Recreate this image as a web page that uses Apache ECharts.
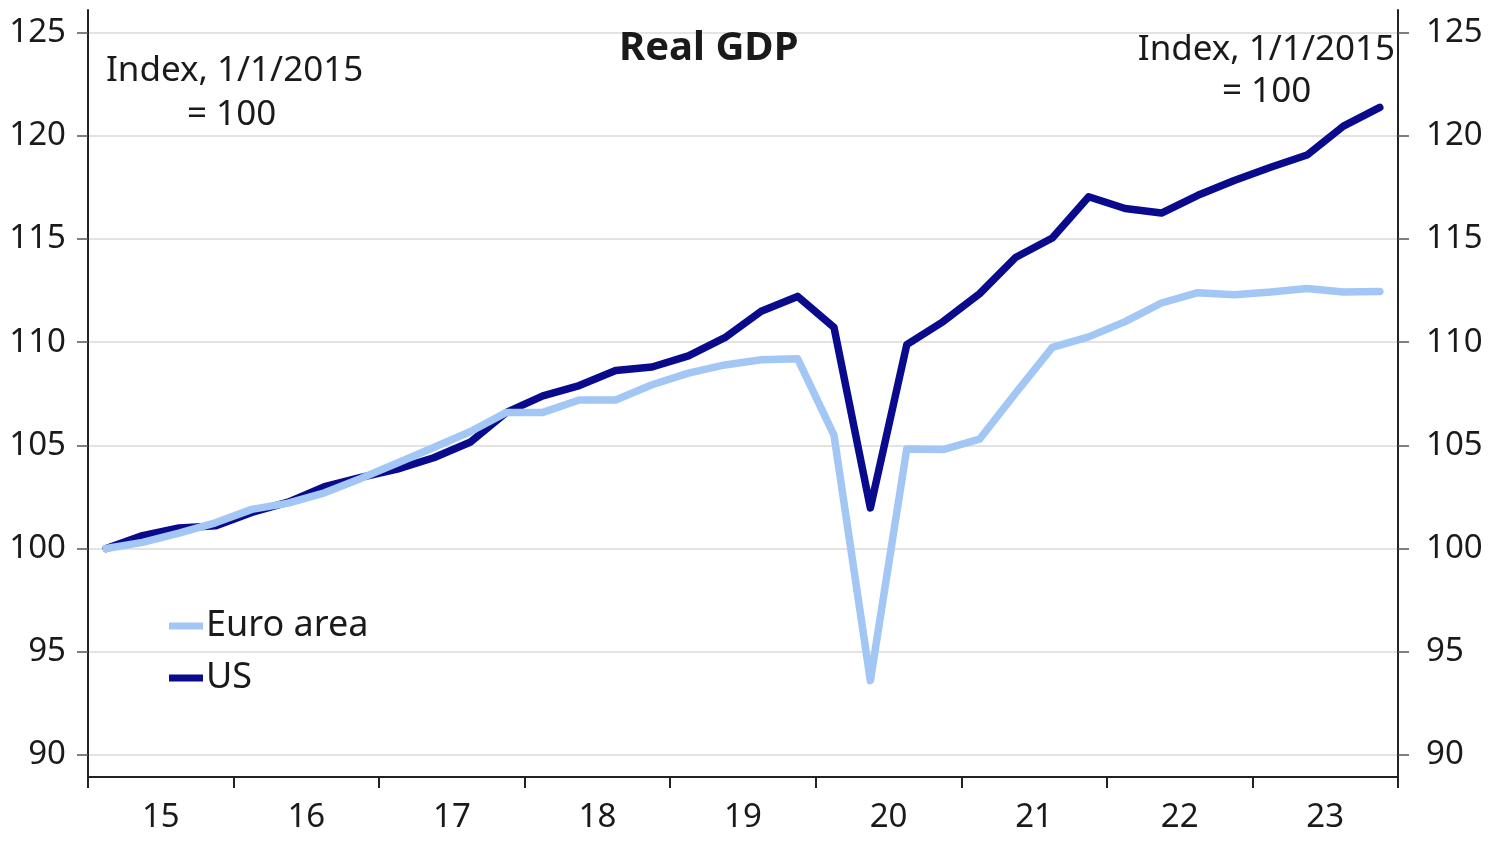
<!DOCTYPE html>
<html>
<head>
<meta charset="utf-8">
<script src="https://cdn.jsdelivr.net/npm/echarts@6/dist/echarts.min.js"></script>
<style>
html,body{margin:0;padding:0;background:#fff;}
#c{width:1500px;height:850px;}
</style>
</head>
<body>
<div id="c"></div>
<script>
// quarters 2015Q1 .. 2023Q4
const quarters = [];
for (let y = 15; y <= 23; y++) { for (let q = 1; q <= 4; q++) quarters.push('Q' + q + ' 20' + y); }
const yearLabels = ['15','16','17','18','19','20','21','22','23'];
const yTicks = [90, 95, 100, 105, 110, 115, 120, 125];

const euroArea = [100.0, 100.3, 100.75, 101.25, 101.9, 102.2, 102.7, 103.4,
  104.15, 104.9, 105.66, 106.6, 106.6, 107.2, 107.2, 107.94,
  108.5, 108.9, 109.15, 109.2, 105.5, 93.6, 104.83, 104.8,
  105.3, 107.55, 109.75, 110.26, 111.0, 111.9, 112.4, 112.3,
  112.43, 112.6, 112.43, 112.46];
const us = [100.0, 100.63, 101.0, 101.1, 101.75, 102.25, 103.0, 103.45,
  103.85, 104.4, 105.15, 106.6, 107.4, 107.9, 108.63, 108.8,
  109.34, 110.22, 111.5, 112.22, 110.72, 101.97, 109.88, 111.0,
  112.35, 114.12, 115.05, 117.05, 116.48, 116.26, 117.12, 117.84,
  118.48, 119.07, 120.47, 121.38];

const FONT = '"Noto Sans", "Open Sans", sans-serif';
const chart = echarts.init(document.getElementById('c'), null, {renderer: 'canvas'});
const gridPos = {left: 88, right: 102, top: 10, bottom: 73, containLabel: false};
const yCommon = {
  type: 'value', min: 88.93, max: 126.1, scale: true,
  axisLine: {show: true, lineStyle: {color: '#222', width: 2}},
  axisTick: {show: true, length: 11, customValues: yTicks, lineStyle: {color: '#555', width: 1.5}},
  axisLabel: {customValues: yTicks, fontFamily: FONT, fontSize: 33, color: '#1a1a1a'},
  splitLine: {show: true, lineStyle: {color: '#e3e3e3', width: 2}}
};
chart.setOption({
  animation: false,
  backgroundColor: '#fff',
  title: {
    text: 'Real GDP', left: 614, top: 24,
    textStyle: {fontFamily: FONT, fontSize: 40, fontWeight: 'bold', color: '#1a1a1a'}
  },
  legend: {
    orient: 'vertical', left: 164, top: 600, itemWidth: 34, itemHeight: 7, itemGap: 10,
    textStyle: {fontFamily: FONT, fontSize: 36, color: '#1a1a1a', lineHeight: 42, padding: [0,0,0,-2]},
    data: [{name: 'Euro area', icon: 'rect'}, {name: 'US', icon: 'rect'}]
  },
  grid: [gridPos, Object.assign({}, gridPos)],
  xAxis: [
    {
      type: 'category', gridIndex: 0, data: quarters, boundaryGap: true,
      axisLine: {show: true, lineStyle: {color: '#222', width: 2}},
      axisTick: {show: true, interval: 3, length: 11, lineStyle: {color: '#222', width: 2}},
      axisLabel: {show: false}, splitLine: {show: false}
    },
    {
      type: 'category', gridIndex: 1, data: yearLabels, boundaryGap: true, position: 'bottom',
      axisLine: {show: false}, axisTick: {show: false},
      axisLabel: {show: true, margin: 24, fontFamily: FONT, fontSize: 33, color: '#1a1a1a'},
      splitLine: {show: false}
    }
  ],
  yAxis: [
    Object.assign({}, yCommon, {gridIndex: 0, position: 'left',
      axisLabel: Object.assign({}, yCommon.axisLabel, {margin: 22})}),
    Object.assign({}, yCommon, {gridIndex: 0, position: 'right', splitLine: {show: false},
      axisLabel: Object.assign({}, yCommon.axisLabel, {margin: 28})}),
    {type: 'value', gridIndex: 1, show: false, min: 0, max: 1}
  ],
  series: [
    {
      name: 'Euro area', type: 'line', xAxisIndex: 0, yAxisIndex: 0, data: euroArea,
      showSymbol: false, symbol: 'none', z: 3,
      lineStyle: {color: '#a2c7f4', width: 7.5, join: 'round', cap: 'round'},
      itemStyle: {color: '#a2c7f4'}
    },
    {
      name: 'US', type: 'line', xAxisIndex: 0, yAxisIndex: 0, data: us,
      showSymbol: false, symbol: 'none', z: 2,
      lineStyle: {color: '#0a0a8c', width: 7.5, join: 'round', cap: 'round'},
      itemStyle: {color: '#0a0a8c'}
    }
  ],
  graphic: [
    {type: 'text', left: 106, top: 54, style: {text: 'Index, 1/1/2015', font: '35px ' + FONT, fill: '#1a1a1a'}},
    {type: 'text', left: 187, top: 98, style: {text: '= 100', font: '35px ' + FONT, fill: '#1a1a1a'}},
    {type: 'text', right: 105, top: 33, style: {text: 'Index, 1/1/2015', font: '35px ' + FONT, fill: '#1a1a1a'}},
    {type: 'text', left: 1222, top: 75, style: {text: '= 100', font: '35px ' + FONT, fill: '#1a1a1a'}}
  ]
});
</script>
</body>
</html>
